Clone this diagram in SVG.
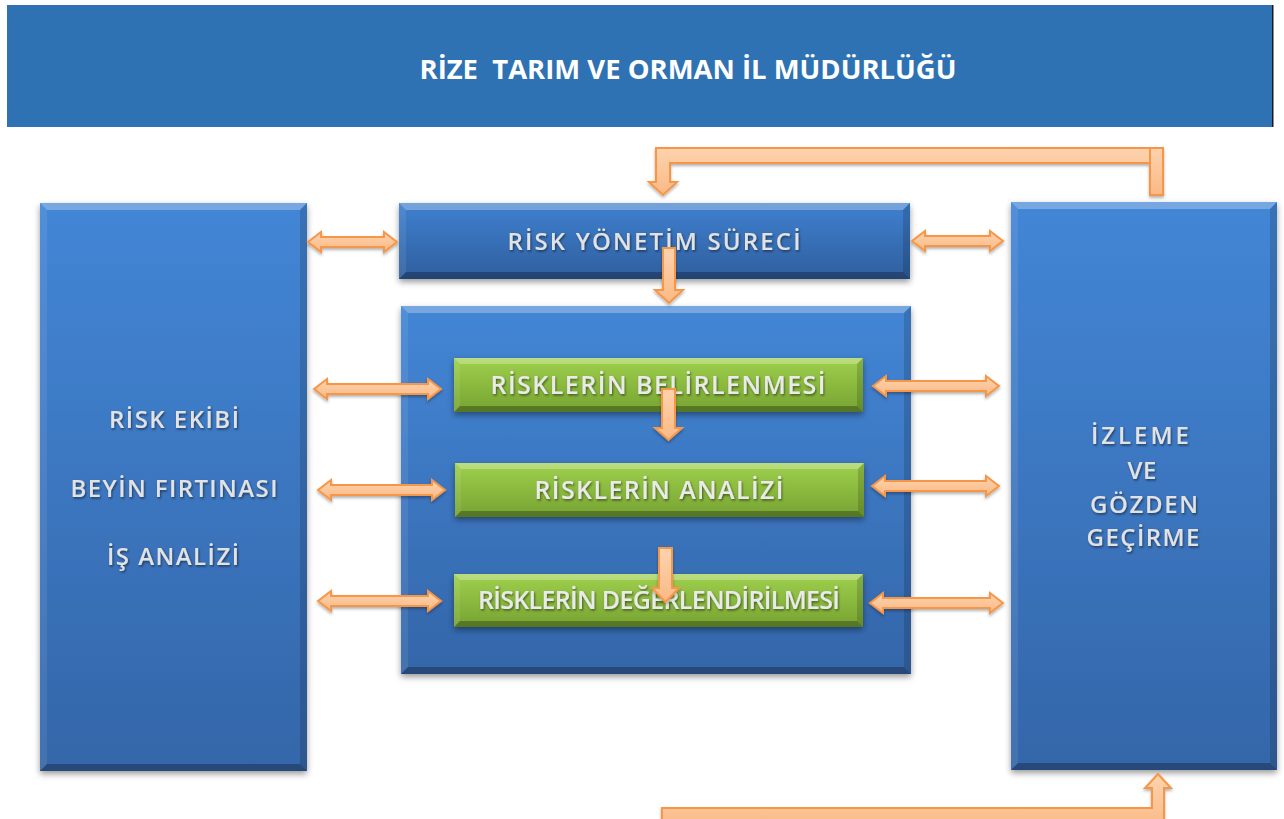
<svg xmlns="http://www.w3.org/2000/svg" width="1284" height="819" viewBox="0 0 1284 819">
<defs>
<linearGradient id="gBlue" x1="0" y1="0" x2="0" y2="1">
<stop offset="0" stop-color="#4386D6"/>
<stop offset="1" stop-color="#3466A9"/>
</linearGradient>
<linearGradient id="gBlueS" x1="0" y1="0" x2="0" y2="1">
<stop offset="0" stop-color="#3F80CF"/>
<stop offset="1" stop-color="#2F5F9F"/>
</linearGradient>
<linearGradient id="gGreen" x1="0" y1="0" x2="0" y2="1">
<stop offset="0" stop-color="#9FD04C"/>
<stop offset="1" stop-color="#76A332"/>
</linearGradient>
<linearGradient id="gOr" x1="0" y1="0" x2="0" y2="1">
<stop offset="0" stop-color="#FDD3AE"/>
<stop offset="1" stop-color="#FAB985"/>
</linearGradient>
<filter id="shadow" x="-10%" y="-10%" width="120%" height="130%">
<feDropShadow dx="0" dy="3" stdDeviation="3" flood-color="#000" flood-opacity="0.4"/>
</filter>
<filter id="ashadow" x="-10%" y="-30%" width="120%" height="160%">
<feDropShadow dx="0" dy="2" stdDeviation="1.5" flood-color="#000" flood-opacity="0.3"/>
</filter>
<filter id="tshadow" x="-5%" y="-30%" width="110%" height="160%">
<feDropShadow dx="1" dy="1.5" stdDeviation="0.8" flood-color="#000" flood-opacity="0.5"/>
</filter>
</defs>
<style>
.bt{fill:#fff;opacity:0.28}
.bl{fill:#fff;opacity:0.08}
.br{fill:#000;opacity:0.15}
.bb{fill:#000;opacity:0.28}
.lbl{font-family:"Open Sans","Liberation Sans",sans-serif;font-weight:600;font-size:24px;fill:#E2E2E2;text-anchor:middle;filter:url(#tshadow)}
.glbl{font-family:"Open Sans","Liberation Sans",sans-serif;font-weight:600;font-size:25px;fill:#EAEAEA;text-anchor:middle;filter:url(#tshadow)}
.hdr{font-family:"Open Sans","Liberation Sans",sans-serif;font-weight:700;font-size:27px;fill:#fff;text-anchor:middle;white-space:pre}
.arr{fill:url(#gOr);stroke:#F79646;stroke-width:2;stroke-linejoin:miter;filter:url(#ashadow)}
</style>
<rect width="1284" height="819" fill="#fff"/>

<g id="header">
<rect x="7" y="5" width="1266" height="122" fill="#2E72B3"/>
<rect x="1272" y="5" width="1.5" height="122" fill="#1a1a1a"/>
<text class="hdr" x="688" y="79" textLength="537" lengthAdjust="spacingAndGlyphs" xml:space="preserve">RİZE  TARIM VE ORMAN İL MÜDÜRLÜĞÜ</text>
</g>

<g id="risk-ekibi">
<rect x="40" y="203" width="267" height="568" fill="url(#gBlue)" filter="url(#shadow)"/>
<polygon class="bt" points="40,203 307,203 300,210 47,210"/>
<polygon class="bl" points="40,203 47,210 47,764 40,771"/>
<polygon class="br" points="307,203 307,771 300,764 300,210"/>
<polygon class="bb" points="40,771 307,771 300,764 47,764"/>
<text class="lbl" x="174" y="428" textLength="130" lengthAdjust="spacing">RİSK EKİBİ</text>
<text class="lbl" x="174" y="497" textLength="207" lengthAdjust="spacing">BEYİN FIRTINASI</text>
<text class="lbl" x="173" y="565" textLength="132" lengthAdjust="spacing">İŞ ANALİZİ</text>
</g>

<g id="risk-yonetim">
<rect x="399" y="203" width="511" height="76" fill="url(#gBlueS)" filter="url(#shadow)"/>
<polygon class="bt" points="399,203 910,203 903,210 406,210"/>
<polygon class="bl" points="399,203 406,210 406,272 399,279"/>
<polygon class="br" points="910,203 910,279 903,272 903,210"/>
<polygon class="bb" points="399,279 910,279 903,272 406,272"/>
<text class="lbl" x="654" y="250" textLength="293" lengthAdjust="spacing">RİSK YÖNETİM SÜRECİ</text>
</g>

<g id="surec-kutusu">
<rect x="401" y="306" width="510" height="368" fill="url(#gBlue)" filter="url(#shadow)"/>
<polygon class="bt" points="401,306 911,306 904,313 408,313"/>
<polygon class="bl" points="401,306 408,313 408,667 401,674"/>
<polygon class="br" points="911,306 911,674 904,667 904,313"/>
<polygon class="bb" points="401,674 911,674 904,667 408,667"/>
</g>

<g id="izleme">
<rect x="1011" y="202" width="266" height="568" fill="url(#gBlue)" filter="url(#shadow)"/>
<polygon class="bt" points="1011,202 1277,202 1270,209 1018,209"/>
<polygon class="bl" points="1011,202 1018,209 1018,763 1011,770"/>
<polygon class="br" points="1277,202 1277,770 1270,763 1270,209"/>
<polygon class="bb" points="1011,770 1277,770 1270,763 1018,763"/>
<text class="lbl" x="1140" y="444" textLength="98" lengthAdjust="spacing">İZLEME</text>
<text class="lbl" x="1142" y="479" textLength="29" lengthAdjust="spacing">VE</text>
<text class="lbl" x="1144" y="513" textLength="108" lengthAdjust="spacing">GÖZDEN</text>
<text class="lbl" x="1143" y="546" textLength="113" lengthAdjust="spacing">GEÇİRME</text>
</g>

<g id="belirlenmesi">
<rect x="454" y="358" width="409" height="54" fill="url(#gGreen)" filter="url(#shadow)"/>
<polygon class="bt" points="454,358 863,358 857,364 460,364"/>
<polygon class="bl" points="454,358 460,364 460,406 454,412"/>
<polygon class="br" points="863,358 863,412 857,406 857,364"/>
<polygon class="bb" points="454,412 863,412 857,406 460,406"/>
<text class="glbl" x="658" y="394" textLength="335" lengthAdjust="spacing">RİSKLERİN BELİRLENMESİ</text>
</g>

<g id="analizi">
<rect x="455" y="463" width="409" height="54" fill="url(#gGreen)" filter="url(#shadow)"/>
<polygon class="bt" points="455,463 864,463 858,469 461,469"/>
<polygon class="bl" points="455,463 461,469 461,511 455,517"/>
<polygon class="br" points="864,463 864,517 858,511 858,469"/>
<polygon class="bb" points="455,517 864,517 858,511 461,511"/>
<text class="glbl" x="659" y="499" textLength="249" lengthAdjust="spacing">RİSKLERİN ANALİZİ</text>
</g>

<g id="degerlendirilmesi">
<rect x="454" y="574" width="409" height="53" fill="url(#gGreen)" filter="url(#shadow)"/>
<polygon class="bt" points="454,574 863,574 857,580 460,580"/>
<polygon class="bl" points="454,574 460,580 460,621 454,627"/>
<polygon class="br" points="863,574 863,627 857,621 857,580"/>
<polygon class="bb" points="454,627 863,627 857,621 460,621"/>
<text class="glbl" x="659" y="609" textLength="362" lengthAdjust="spacing">RİSKLERİN DEĞERLENDİRİLMESİ</text>
</g>

<g id="connectors">
<path class="arr" d="M308,242 L321,232 L321,237 L384,237 L384,232 L397,242 L384,252 L384,247 L321,247 L321,252 Z"/>
<path class="arr" d="M912,241 L925,231 L925,236 L990,236 L990,231 L1003,241 L990,251 L990,246 L925,246 L925,251 Z"/>
<path class="arr" d="M314,389 L327,379 L327,384 L428,384 L428,379 L441,389 L428,399 L428,394 L327,394 L327,399 Z"/>
<path class="arr" d="M318,490 L331,480 L331,485 L432,485 L432,480 L445,490 L432,500 L432,495 L331,495 L331,500 Z"/>
<path class="arr" d="M318,601 L331,591 L331,596 L428,596 L428,591 L441,601 L428,611 L428,606 L331,606 L331,611 Z"/>
<path class="arr" d="M873,386 L886,376 L886,381 L986,381 L986,376 L999,386 L986,396 L986,391 L886,391 L886,396 Z"/>
<path class="arr" d="M872,486 L885,476 L885,481 L986,481 L986,476 L999,486 L986,496 L986,491 L885,491 L885,496 Z"/>
<path class="arr" d="M870,603 L883,593 L883,598 L990,598 L990,593 L1003,603 L990,613 L990,608 L883,608 L883,613 Z"/>
<path class="arr" d="M663,248 L675,248 L675,290 L683,290 L669,303 L655,290 L663,290 Z"/>
<path class="arr" d="M662,389 L675,389 L675,428 L682,428 L668.5,440 L655,428 L662,428 Z"/>
<path class="arr" d="M659,548 L672,548 L672,588 L679,588 L665.5,602 L652,588 L659,588 Z"/>
<path class="arr" d="M1163,195 L1163,148 L656,148 L656,182 L649,182 L663,195 L677,182 L670,182 L670,163 L1150,163 L1150,195 Z"/>
<rect class="arr" x="1150" y="148" width="13" height="47" style="filter:none"/>
<path class="arr" d="M662,808 L1152,808 L1152,788 L1145,788 L1158,774 L1171,788 L1164,788 L1164,830 L662,830 Z"/>
</g>
</svg>
